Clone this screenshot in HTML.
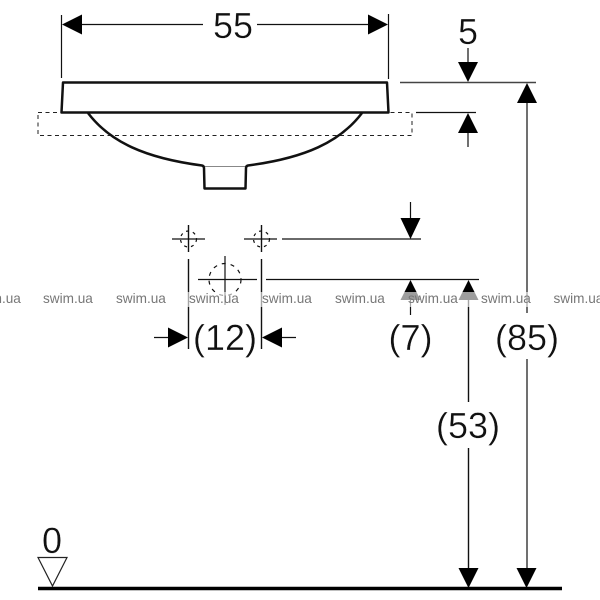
<!DOCTYPE html>
<html>
<head>
<meta charset="utf-8">
<style>
html,body{margin:0;padding:0;background:#fff}
svg{display:block}
text{font-family:"Liberation Sans",sans-serif}
.d{font-size:36px;fill:#111;text-anchor:middle;stroke:#fff;stroke-width:.35px}
.w{font-size:13.6px;fill:#777}
</style>
</head>
<body>
<svg width="600" height="600" viewBox="0 0 600 600" xmlns="http://www.w3.org/2000/svg">
<rect width="600" height="600" fill="#fff"/>
<g fill="none" stroke="#111" stroke-width="1.2">
<path d="M61.500 15V78M388.500 14V79"/>
<path d="M82 24.500H203M257 24.500H368"/>
<path d="M400 82.500H536" stroke="#444" stroke-width="1.4"/>
<path d="M416 112.500H476"/>
<path d="M468 48V62M468 133V147"/>
<path d="M527 103V313M527 359V568"/>
<path d="M468.500 300V402M468.500 448V568" stroke-width="1.4"/>
<path d="M188.500 225V252M261.500 225V252" stroke-width="1.4"/>
<path d="M188.500 259V349M261.500 259V349" stroke-width="1.4"/>
<path d="M172 239H205M244 239H277M282 239H421"/>
<path d="M198 279.500H257M266 279.500H479"/>
<path d="M225 256V305"/>
<path d="M410.500 202V218M410.500 300V315"/>
<path d="M154 337.500H168M282 337.500H296"/>
<circle cx="225" cy="279.500" r="16" stroke-dasharray="4 5"/>
<circle cx="188.500" cy="239" r="8" stroke-dasharray="3 4"/>
<circle cx="261.500" cy="239" r="8" stroke-dasharray="3 4"/>
</g>
<rect x="38" y="112.500" width="374" height="23" fill="none" stroke="#222" stroke-width="1" stroke-dasharray="4 3.500"/>
<g fill="none" stroke="#111" stroke-width="2.500" stroke-linejoin="round">
<path d="M61.500 112.500L63 82.500H387L388.500 112.500Z"/>
<path d="M88 113C110 142 145 158 202 165.500Q204 166 204 168L204.500 188.500H245.500L246 168Q246 166 248 165.500C305 158 340 142 362 113"/>
</g>
<path d="M205 166.500H245" stroke="#888" stroke-width="1" fill="none"/>
<g fill="#000">
<path d="M62 24.500L82 14.500V34.500Z"/>
<path d="M388 24.500L368 14.500V34.500Z"/>
<path d="M468 82L458 62H478Z"/>
<path d="M468 113L458 133H478Z"/>
<path d="M527 83L517 103H537Z"/>
<path d="M410.500 239L400.500 218H420.500Z"/>
<path d="M410.500 280L400.500 300H420.500Z"/>
<path d="M468.500 280L458.500 300H478.500Z"/>
<path d="M188 337.500L168 327.500V347.500Z"/>
<path d="M262 337.500L282 327.500V347.500Z"/>
<path d="M468.500 588L458.500 568H478.500Z"/>
<path d="M526.500 588L516.500 568H536.500Z"/>
</g>
<path d="M38 557.500H67L52.500 586Z" fill="#fff" stroke="#222" stroke-width="1.200"/>
<path d="M38 588.500H562" stroke="#000" stroke-width="3.500"/>
<rect x="0" y="292" width="600" height="15" fill="#fff" fill-opacity=".62"/>
<g class="w">
<text class="w" x="-29" y="303">swim.ua</text>
<text class="w" x="43" y="303">swim.ua</text>
<text class="w" x="116" y="303">swim.ua</text>
<text class="w" x="189" y="303">swim.ua</text>
<text class="w" x="262" y="303">swim.ua</text>
<text class="w" x="335" y="303">swim.ua</text>
<text class="w" x="408" y="303">swim.ua</text>
<text class="w" x="481" y="303">swim.ua</text>
<text class="w" x="553.500" y="303">swim.ua</text>
</g>
<text class="d" x="233" y="38">55</text>
<text class="d" x="468" y="44">5</text>
<text class="d" x="225" y="350">(12)</text>
<text class="d" x="410.500" y="350">(7)</text>
<text class="d" x="527" y="350">(85)</text>
<text class="d" x="468" y="438">(53)</text>
<text class="d" x="52" y="553">0</text>
</svg>
</body>
</html>
